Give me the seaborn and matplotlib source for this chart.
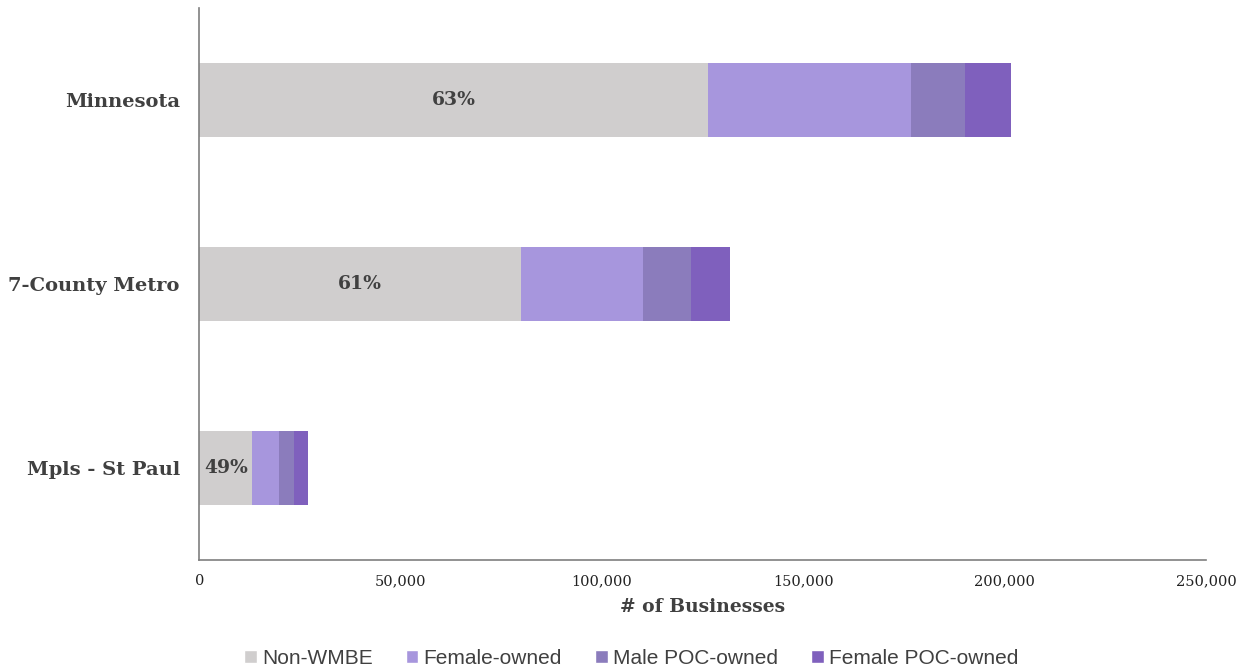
import pandas as pd
import seaborn as sns
import matplotlib.pyplot as plt
from matplotlib.patches import Patch

regions = ["Minnesota", "7-County Metro", "Mpls - St Paul"]
series = ["Non-WMBE", "Female-owned", "Male POC-owned", "Female POC-owned"]
non_wmbe = [126400, 79900, 13200]
female_owned = [50400, 30400, 6700]
male_poc = [13400, 11800, 3700]
female_poc = [11400, 9800, 3500]
pct_labels = ["63%", "61%", "49%"]
colors = ["#D0CECE", "#A796DD", "#8B7CBC", "#7F60BD"]

df = pd.DataFrame({"region": regions, "Non-WMBE": non_wmbe, "Female-owned": female_owned,
                   "Male POC-owned": male_poc, "Female POC-owned": female_poc})
cum = df[series].cumsum(axis=1)

sns.set_style("white")
serif = "DejaVu Serif"
txt = "#404040"

fig = plt.figure(figsize=(12.45, 6.69), dpi=100)
ax = fig.add_axes([0.16, 0.163, 0.8087, 0.825])

# draw cumulative totals back to front so segments stack
for s, c in reversed(list(zip(series, colors))):
    sns.barplot(x=cum[s], y=df["region"], color=c, width=0.4, ax=ax,
                orient="h", saturation=1, edgecolor="none")

for i, (v, lab) in enumerate(zip(non_wmbe, pct_labels)):
    ax.text(v / 2, i, lab, ha="center", va="center", fontsize=13.5,
            fontweight="bold", family=serif, color=txt)

ax.set_xlim(0, 250000)
ax.set_ylim(2.5, -0.5)
ax.set_xticks(range(0, 250001, 50000))
ax.set_xticklabels([f"{t:,}" for t in range(0, 250001, 50000)],
                   family=serif, fontsize=10.5, color="#222222")
ax.set_yticks(range(3))
ax.set_yticklabels(regions, family=serif, fontsize=14, fontweight="bold", color=txt)
ax.tick_params(axis="y", length=0, pad=14)
ax.tick_params(axis="x", length=0, pad=10)
ax.set_ylabel("")
ax.set_xlabel("# of Businesses", family=serif, fontsize=13.5, fontweight="bold",
              color=txt, labelpad=7)

for side in ["top", "right"]:
    ax.spines[side].set_visible(False)
for side in ["left", "bottom"]:
    ax.spines[side].set_color("#7f7f7f")
    ax.spines[side].set_linewidth(1.2)

handles = [Patch(facecolor=c, label=s) for s, c in zip(series, colors)]
fig.legend(handles=handles, loc="lower center", ncol=4, frameon=False,
           bbox_to_anchor=(0.507, -0.026), handlelength=0.6,
           handleheight=0.6, handletextpad=0.25, columnspacing=1.6,
           prop={"family": "Liberation Sans", "size": 15})
for t in fig.legends[0].get_texts():
    t.set_color("#404040")

fig.savefig("out.png", dpi=100)
